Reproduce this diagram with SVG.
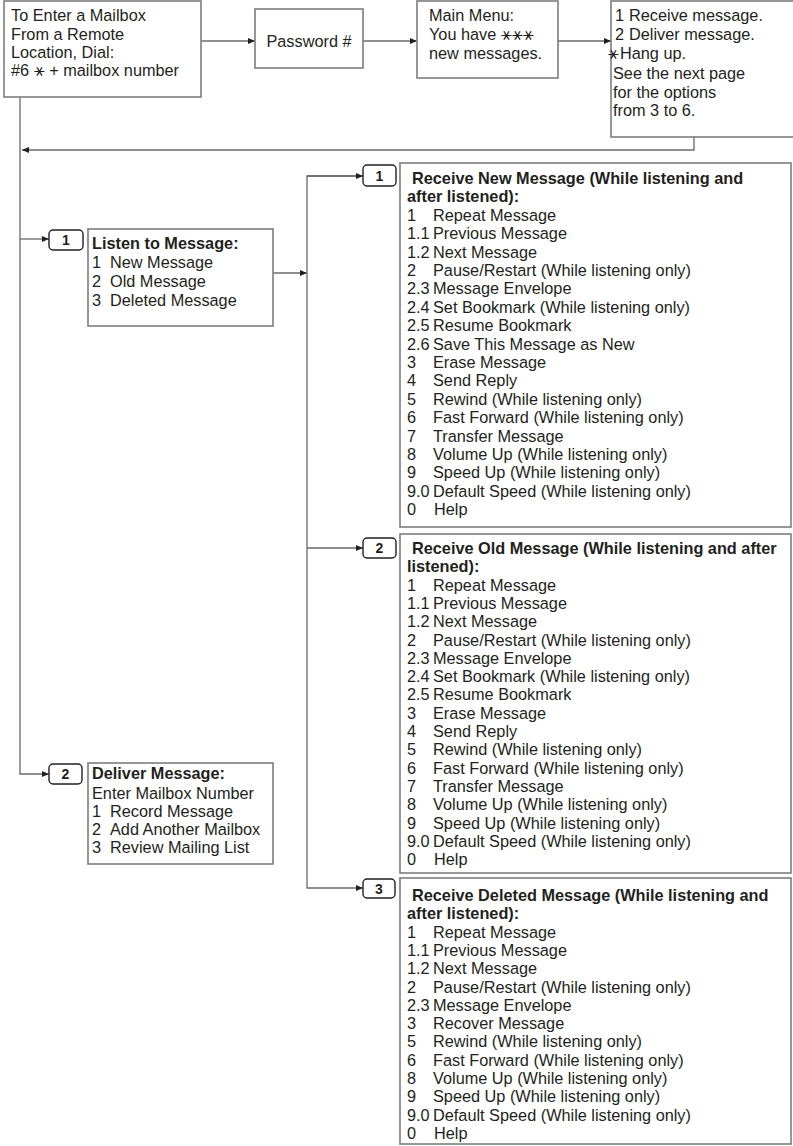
<svg xmlns="http://www.w3.org/2000/svg" width="793" height="1146" viewBox="0 0 793 1146">
<defs>
<style>
.box{fill:#fff;stroke:#7d7d7d;stroke-width:1.6}
.badge{fill:#fff;stroke:#231f20;stroke-width:1.4}
.ln{fill:none;stroke:#6a6a6a;stroke-width:1.3}
text{font-family:"Liberation Sans",Arial,sans-serif;font-size:16.3px;fill:#231f20}
.b{font-weight:bold}
.bt{font-weight:bold;font-size:14px;text-anchor:middle}
.sym{font-family:"DejaVu Sans",sans-serif;font-size:18px}
</style>
<marker id="ah" markerUnits="userSpaceOnUse" markerWidth="7" markerHeight="6" refX="7" refY="3" orient="auto">
<path d="M0,0 L7,3 L0,6 z" fill="#231f20"/>
</marker>
</defs>
<rect width="793" height="1146" fill="#fff"/>

<g id="connectors">
<path class="ln" d="M201,41 H255" marker-end="url(#ah)"/>
<path class="ln" d="M363,41 H417" marker-end="url(#ah)"/>
<path class="ln" d="M558,41 H611" marker-end="url(#ah)"/>
<path class="ln" d="M694,137 V150 H22" marker-end="url(#ah)"/>
<path class="ln" d="M20,97 V774 H49" marker-end="url(#ah)"/>
<path class="ln" d="M20,239 H49" marker-end="url(#ah)"/>
<path class="ln" d="M273,273 H307" marker-end="url(#ah)"/>
<path class="ln" d="M363,176 H307 V888 H363" marker-end="url(#ah)"/>
<path class="ln" d="M307,176 H363" marker-end="url(#ah)"/>
<path class="ln" d="M307,548 H363" marker-end="url(#ah)"/>
</g>

<g id="enter-mailbox">
<rect class="box" x="4" y="1" width="197" height="96"/>
<text x="11" y="21">To Enter a Mailbox</text>
<text x="11" y="40">From a Remote</text>
<text x="11" y="58">Location, Dial:</text>
<text x="11" y="76">#6 <tspan class="sym">⚹</tspan> + mailbox number</text>
</g>

<g id="password">
<rect class="box" x="255" y="9" width="108" height="59"/>
<text x="309" y="47" text-anchor="middle">Password #</text>
</g>

<g id="main-menu">
<rect class="box" x="417" y="1" width="141" height="77"/>
<text x="429" y="21">Main Menu:</text>
<text x="429" y="40">You have <tspan class="sym">⚹⚹⚹</tspan></text>
<text x="429" y="59">new messages.</text>
</g>

<g id="options">
<rect class="box" x="611" y="1" width="190" height="136"/>
<text y="21"><tspan x="615">1</tspan><tspan x="629">Receive message.</tspan></text>
<text y="40"><tspan x="615">2</tspan><tspan x="629">Deliver message.</tspan></text>
<text y="59"><tspan x="608" class="sym">⚹</tspan><tspan x="620">Hang up.</tspan></text>
<text x="613" y="79">See the next page</text>
<text x="613" y="98">for the options</text>
<text x="613" y="116">from 3 to 6.</text>
</g>

<g id="badge-listen">
<rect class="badge" x="49" y="230" width="34" height="20" rx="4"/>
<text class="bt" x="66" y="245">1</text>
</g>

<g id="listen">
<rect class="box" x="88" y="229" width="185" height="97"/>
<text class="b" x="92" y="249">Listen to Message:</text>
<text y="268"><tspan x="92">1</tspan><tspan x="110">New Message</tspan></text>
<text y="287"><tspan x="92">2</tspan><tspan x="110">Old Message</tspan></text>
<text y="306"><tspan x="92">3</tspan><tspan x="110">Deleted Message</tspan></text>
</g>

<g id="badge-deliver">
<rect class="badge" x="49" y="764" width="33" height="20" rx="4"/>
<text class="bt" x="65.5" y="779">2</text>
</g>

<g id="deliver">
<rect class="box" x="88" y="763" width="185" height="101"/>
<text class="b" x="92" y="779">Deliver Message:</text>
<text x="92" y="799">Enter Mailbox Number</text>
<text y="817"><tspan x="92">1</tspan><tspan x="110">Record Message</tspan></text>
<text y="835"><tspan x="92">2</tspan><tspan x="110">Add Another Mailbox</tspan></text>
<text y="853"><tspan x="92">3</tspan><tspan x="110">Review Mailing List</tspan></text>
</g>

<g id="badge-new">
<rect class="badge" x="363" y="165" width="33" height="21" rx="4"/>
<text class="bt" x="379.5" y="180.5">1</text>
</g>

<g id="receive-new">
<rect class="box" x="400" y="163" width="391" height="364"/>
<text class="b" x="412" y="184">Receive New Message (While listening and</text>
<text class="b" x="407" y="202.4">after listened):</text>
<text y="220.8"><tspan x="407">1</tspan><tspan x="433">Repeat Message</tspan></text>
<text y="239.2"><tspan x="407">1.1</tspan><tspan x="433">Previous Message</tspan></text>
<text y="257.6"><tspan x="407">1.2</tspan><tspan x="433">Next Message</tspan></text>
<text y="276"><tspan x="407">2</tspan><tspan x="433">Pause/Restart (While listening only)</tspan></text>
<text y="294.4"><tspan x="407">2.3</tspan><tspan x="433">Message Envelope</tspan></text>
<text y="312.8"><tspan x="407">2.4</tspan><tspan x="433">Set Bookmark (While listening only)</tspan></text>
<text y="331.2"><tspan x="407">2.5</tspan><tspan x="433">Resume Bookmark</tspan></text>
<text y="349.6"><tspan x="407">2.6</tspan><tspan x="433">Save This Message as New</tspan></text>
<text y="368"><tspan x="407">3</tspan><tspan x="433">Erase Message</tspan></text>
<text y="386.4"><tspan x="407">4</tspan><tspan x="433">Send Reply</tspan></text>
<text y="404.8"><tspan x="407">5</tspan><tspan x="433">Rewind (While listening only)</tspan></text>
<text y="423.2"><tspan x="407">6</tspan><tspan x="433">Fast Forward (While listening only)</tspan></text>
<text y="441.6"><tspan x="407">7</tspan><tspan x="433">Transfer Message</tspan></text>
<text y="460"><tspan x="407">8</tspan><tspan x="433">Volume Up (While listening only)</tspan></text>
<text y="478.4"><tspan x="407">9</tspan><tspan x="433">Speed Up (While listening only)</tspan></text>
<text y="496.8"><tspan x="407">9.0</tspan><tspan x="433">Default Speed (While listening only)</tspan></text>
<text y="515.2"><tspan x="407">0</tspan><tspan x="434">Help</tspan></text>
</g>

<g id="badge-old">
<rect class="badge" x="363" y="538" width="33" height="20" rx="4"/>
<text class="bt" x="379.5" y="553">2</text>
</g>

<g id="receive-old">
<rect class="box" x="400" y="534" width="391" height="339"/>
<text class="b" x="412" y="554">Receive Old Message (While listening and after</text>
<text class="b" x="407" y="572.3">listened):</text>
<text y="590.6"><tspan x="407">1</tspan><tspan x="433">Repeat Message</tspan></text>
<text y="608.9"><tspan x="407">1.1</tspan><tspan x="433">Previous Message</tspan></text>
<text y="627.2"><tspan x="407">1.2</tspan><tspan x="433">Next Message</tspan></text>
<text y="645.5"><tspan x="407">2</tspan><tspan x="433">Pause/Restart (While listening only)</tspan></text>
<text y="663.8"><tspan x="407">2.3</tspan><tspan x="433">Message Envelope</tspan></text>
<text y="682.1"><tspan x="407">2.4</tspan><tspan x="433">Set Bookmark (While listening only)</tspan></text>
<text y="700.4"><tspan x="407">2.5</tspan><tspan x="433">Resume Bookmark</tspan></text>
<text y="718.7"><tspan x="407">3</tspan><tspan x="433">Erase Message</tspan></text>
<text y="737"><tspan x="407">4</tspan><tspan x="433">Send Reply</tspan></text>
<text y="755.3"><tspan x="407">5</tspan><tspan x="433">Rewind (While listening only)</tspan></text>
<text y="773.6"><tspan x="407">6</tspan><tspan x="433">Fast Forward (While listening only)</tspan></text>
<text y="791.9"><tspan x="407">7</tspan><tspan x="433">Transfer Message</tspan></text>
<text y="810.2"><tspan x="407">8</tspan><tspan x="433">Volume Up (While listening only)</tspan></text>
<text y="828.5"><tspan x="407">9</tspan><tspan x="433">Speed Up (While listening only)</tspan></text>
<text y="846.8"><tspan x="407">9.0</tspan><tspan x="433">Default Speed (While listening only)</tspan></text>
<text y="865.1"><tspan x="407">0</tspan><tspan x="434">Help</tspan></text>
</g>

<g id="badge-deleted">
<rect class="badge" x="363" y="879" width="32" height="19" rx="4"/>
<text class="bt" x="379" y="893.5">3</text>
</g>

<g id="receive-deleted">
<rect class="box" x="400" y="878" width="391" height="266"/>
<text class="b" x="412" y="901">Receive Deleted Message (While listening and</text>
<text class="b" x="407" y="919.3">after listened):</text>
<text y="937.6"><tspan x="407">1</tspan><tspan x="433">Repeat Message</tspan></text>
<text y="955.9"><tspan x="407">1.1</tspan><tspan x="433">Previous Message</tspan></text>
<text y="974.2"><tspan x="407">1.2</tspan><tspan x="433">Next Message</tspan></text>
<text y="992.5"><tspan x="407">2</tspan><tspan x="433">Pause/Restart (While listening only)</tspan></text>
<text y="1010.8"><tspan x="407">2.3</tspan><tspan x="433">Message Envelope</tspan></text>
<text y="1029.1"><tspan x="407">3</tspan><tspan x="433">Recover Message</tspan></text>
<text y="1047.4"><tspan x="407">5</tspan><tspan x="433">Rewind (While listening only)</tspan></text>
<text y="1065.7"><tspan x="407">6</tspan><tspan x="433">Fast Forward (While listening only)</tspan></text>
<text y="1084"><tspan x="407">8</tspan><tspan x="433">Volume Up (While listening only)</tspan></text>
<text y="1102.3"><tspan x="407">9</tspan><tspan x="433">Speed Up (While listening only)</tspan></text>
<text y="1120.6"><tspan x="407">9.0</tspan><tspan x="433">Default Speed (While listening only)</tspan></text>
<text y="1138.9"><tspan x="407">0</tspan><tspan x="434">Help</tspan></text>
</g>
</svg>
